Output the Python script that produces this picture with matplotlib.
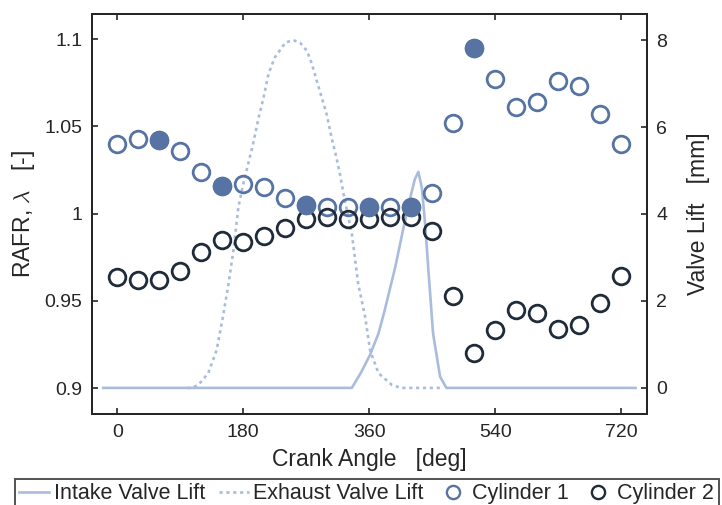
import numpy as np
import matplotlib
matplotlib.use("Agg")
import matplotlib.pyplot as plt
from matplotlib.lines import Line2D

plt.rcParams['font.family'] = ['Liberation Sans', 'DejaVu Sans']
plt.rcParams['mathtext.fontset'] = 'cm'

# crank angle of the measurements
crank_angle = [0, 30, 60, 90, 120, 150, 180, 210, 240, 270, 300, 330, 360,
               390, 420, 450, 480, 510, 540, 570, 600, 630, 660, 690, 720]

# RAFR values
cyl1 = [1.040, 1.043, 1.042, 1.036, 1.024, 1.016, 1.017, 1.015, 1.009, 1.005,
        1.004, 1.004, 1.004, 1.004, 1.004, 1.012, 1.052, 1.095, 1.077, 1.061,
        1.064, 1.076, 1.073, 1.057, 1.040]
cyl2 = [0.9635, 0.962, 0.962, 0.967, 0.978, 0.985, 0.984, 0.987, 0.992, 0.997,
        0.998, 0.997, 0.997, 0.998, 0.998, 0.990, 0.953, 0.920, 0.933, 0.945,
        0.943, 0.934, 0.936, 0.949, 0.964]
# filled markers of cylinder 1
cyl1_filled = [60, 150, 270, 360, 420, 510]

# valve lift curves [deg], [mm]
intake_deg = [-20, 335, 348, 361, 373, 382, 397, 409, 418, 425, 430, 435, 440,
              444, 451, 461, 470, 740]
intake_lift = [0, 0, 0.35, 0.76, 1.25, 1.79, 2.78, 3.7, 4.35, 4.8, 4.97, 4.6,
               3.7, 2.78, 1.25, 0.26, 0, 0]
exhaust_deg = [100, 106, 116, 130, 142, 151, 159, 166, 173, 180, 187, 194, 201,
               209, 216, 225, 240, 251, 261, 271, 278, 285, 292, 299, 306, 313,
               318, 324, 335, 344, 354, 361, 373, 392, 405, 465]
exhaust_lift = [0, 0, 0.07, 0.34, 0.87, 1.64, 2.40, 3.17, 4.16, 4.69, 5.15,
                5.61, 6.15, 6.68, 7.22, 7.60, 7.94, 8.0, 7.94, 7.75, 7.45, 7.06,
                6.68, 6.30, 5.76, 5.30, 4.92, 4.39, 3.55, 2.40, 1.64, 0.87,
                0.34, 0.07, 0, 0]

c1 = '#5673a3'
c2 = '#1f2b38'
lift_col = '#a9bcdc'
ink = '#262626'
dots = (0, (1.2, 1.4))

fig = plt.figure(figsize=(7.22, 5.05), dpi=100)
ax = fig.add_axes([0.1274, 0.1802, 0.8957 - 0.1274, 0.9723 - 0.1802])
ax2 = ax.twinx()

ax2.plot(intake_deg, intake_lift, color=lift_col, lw=1.9)
ax2.plot(exhaust_deg, exhaust_lift, color=lift_col, lw=1.9, ls=dots)

ax.set_zorder(ax2.get_zorder() + 1)
ax.patch.set_visible(False)

ax.plot(crank_angle, cyl1, ls='none', marker='o', ms=12, mew=2,
        mfc='none', mec=c1)
ax.plot(crank_angle, cyl2, ls='none', marker='o', ms=12, mew=2,
        mfc='none', mec=c2)
fx = [a for a in crank_angle if a in cyl1_filled]
fy = [v for a, v in zip(crank_angle, cyl1) if a in cyl1_filled]
ax.plot(fx, fy, ls='none', marker='o', ms=12, mew=2, mfc=c1, mec=c1)

ax.set_xlim(-36, 756)
ax.set_ylim(0.8851, 1.1145)
ax2.set_ylim(-0.6, 8.6)
ax.set_xticks([0, 180, 360, 540, 720])
ax.set_yticks([0.9, 0.95, 1.0, 1.05, 1.1])
ax.set_yticklabels(['0.9', '0.95', '1', '1.05', '1.1'])
ax2.set_yticks([0, 2, 4, 6, 8])

for a in (ax, ax2):
    for s in a.spines.values():
        s.set_color(ink)
        s.set_linewidth(1.4)
ax.tick_params(axis='both', direction='in', length=4.5, width=1.2, colors=ink,
               labelsize=14, pad=7, top=True)
ax.tick_params(axis='y', right=False)
ax2.tick_params(axis='y', direction='in', length=4.5, width=1.2, colors=ink,
                labelsize=14, pad=7)

ax.set_xlabel('Crank Angle   [deg]', fontsize=16.5, color=ink, labelpad=5)
ax.set_ylabel(r'RAFR, $\lambda$   [-]', fontsize=16.5, color=ink, labelpad=5)
ax2.set_ylabel('Valve Lift   [mm]', fontsize=16.5, color=ink, labelpad=14)

handles = [
    Line2D([], [], color=lift_col, lw=1.9),
    Line2D([], [], color=lift_col, lw=1.9, ls=dots),
    Line2D([], [], ls='none', marker='o', ms=9.5, mew=1.7, mfc='none', mec=c1),
    Line2D([], [], ls='none', marker='o', ms=9.5, mew=1.7, mfc='none', mec=c2),
]
labels = ['Intake Valve Lift', 'Exhaust Valve Lift', 'Cylinder 1', 'Cylinder 2']
leg = fig.legend(handles, labels, loc='upper left',
                 bbox_to_anchor=(15 / 722, 1 - 479 / 505), ncol=4,
                 fontsize=15.5, frameon=True, fancybox=False, borderpad=0.2,
                 handlelength=1.4, handletextpad=0.2, columnspacing=0.65,
                 borderaxespad=0)
leg.get_frame().set_edgecolor(ink)
leg.get_frame().set_linewidth(1.4)
for t in leg.get_texts():
    t.set_color(ink)

fig.savefig('out.png', dpi=100)
